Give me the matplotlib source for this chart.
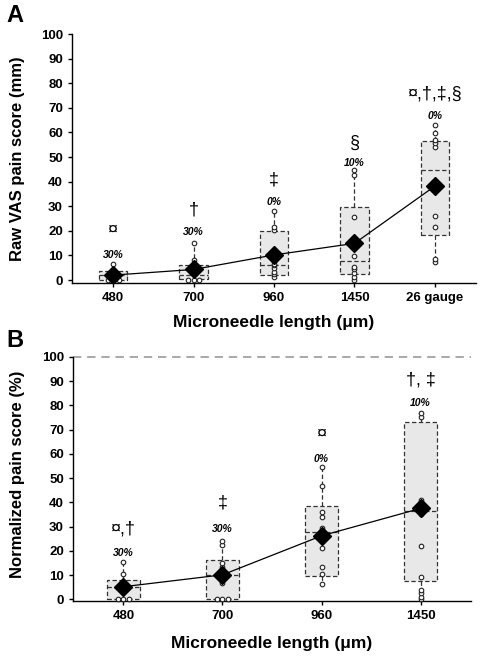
"""
pain score box plots, raw VAS (A) and normalized (B)
"""

import numpy as np
import matplotlib
matplotlib.use('Agg')
from matplotlib import pyplot as plt

plt.rcParams['font.family'] = ['Liberation Sans', 'DejaVu Sans']

# ---- panel A: raw VAS pain score (mm) ----
cats_a = ['480', '700', '960', '1450', '26 gauge']
lo_a = [0.0, 0.0, 1.3, 0.0, 7.2]
q1_a = [0.0, 0.3, 2.0, 2.4, 18.3]
med_a = [2.0, 2.2, 6.2, 7.8, 44.7]
q3_a = [3.7, 6.1, 20.0, 29.8, 56.5]
hi_a = [6.4, 15.2, 27.9, 44.7, 63.0]
mean_a = [2.0, 4.3, 10.2, 14.9, 38.2]
pts_a = [
    [0, 0, 0, 1.2, 1.8, 2.2, 2.8, 3.2, 3.6, 6.4],
    [0, 0, 0, 2.5, 3.5, 4.0, 4.5, 5.5, 8.1, 15.2],
    [1.3, 2.3, 3.4, 4.8, 6.1, 6.5, 7.7, 20.4, 21.7, 27.9],
    [0, 1.3, 3.0, 4.3, 5.4, 9.9, 13.0, 25.5, 42.5, 44.7],
    [7.2, 8.6, 21.7, 26.0, 36.0, 54.2, 55.6, 56.9, 59.9, 63.0],
]
sig_a = ['¤', '†', '‡', '§', '¤,†,‡,§']
sig_y_a = [20.3, 28.5, 40.6, 55.7, 75.6]
pct_a = ['30%', '30%', '0%', '10%', '0%']
pct_y_a = [10.0, 19.5, 31.7, 47.5, 66.7]

# ---- panel B: normalized pain score (%) ----
cats_b = ['480', '700', '960', '1450']
lo_b = [0.0, 0.0, 6.5, 0.0]
q1_b = [0.0, 0.0, 9.5, 7.4]
med_b = [5.1, 9.9, 27.6, 36.5]
q3_b = [8.1, 16.4, 38.4, 73.3]
hi_b = [15.4, 24.1, 54.7, 76.7]
mean_b = [5.2, 10.1, 26.2, 37.5]
pts_b = [
    [0, 0, 0, 3.0, 4.8, 5.4, 6.0, 7.2, 10.3, 15.4],
    [0, 0, 0, 6.7, 8.5, 9.5, 13.3, 15.0, 22.3, 24.1],
    [6.5, 10.3, 13.4, 21.0, 26.0, 29.3, 34.0, 36.1, 46.7, 54.7],
    [0, 1.0, 2.4, 4.0, 9.0, 22.0, 35.0, 41.0, 75.3, 76.7],
]
sig_b = ['¤,†', '‡', '¤', '†, ‡']
sig_y_b = [29.2, 39.8, 68.2, 90.5]
pct_b = ['30%', '30%', '0%', '10%']
pct_y_b = [19.3, 29.2, 57.7, 80.9]


def spread(vals, step):
    """ horizontal offsets so that repeated values sit side by side """
    vals = np.asarray(vals, float)
    off = np.zeros(len(vals))
    for v in np.unique(vals):
        idx = np.where(vals == v)[0]
        n = len(idx)
        if n > 1:
            off[idx] = (np.arange(n) - (n - 1) / 2.0) * step
    return off


def draw_panel(ax, cats, lo, q1, med, q3, hi, mean, pts, sig, sig_y, pct, pct_y,
               width, step, ylim):
    x = np.arange(len(cats))
    stats = []
    for i in range(len(cats)):
        stats.append(dict(med=med[i], q1=q1[i], q3=q3[i], whislo=lo[i],
                          whishi=hi[i], fliers=[], label=cats[i]))
    dash = (0, (3.5, 2))
    ax.bxp(stats, positions=x, widths=width, patch_artist=True,
           showcaps=False, showfliers=False,
           boxprops=dict(facecolor='#e8e8e8', edgecolor='#333333', lw=0.9, ls=dash),
           whiskerprops=dict(color='#333333', lw=0.9, ls=dash),
           medianprops=dict(color='#333333', lw=0.9, ls=dash))

    for i in range(len(cats)):
        off = spread(pts[i], step)
        ax.plot(x[i] + off, pts[i], 'o', ms=3.3, mfc='white', mec='#222222',
                mew=0.8, zorder=4, clip_on=False)

    ax.plot(x, mean, '-', c='k', lw=0.9, zorder=5)
    ax.plot(x, mean, 'D', c='k', ms=9.5, zorder=6)

    for i in range(len(cats)):
        ax.text(x[i], sig_y[i], sig[i], ha='center', va='center', fontsize=13)
        ax.text(x[i], pct_y[i], pct[i], ha='center', va='center', fontsize=7.5,
                fontweight='bold', fontstyle='italic')

    ax.set_xlim(-0.51, len(cats) - 0.49)
    ax.set_ylim(ylim)
    ax.set_yticks(np.arange(0, 101, 10))
    ax.set_xticks(x)
    ax.set_xticklabels(cats)
    for s in ['top', 'right']:
        ax.spines[s].set_visible(False)
    for s in ['left', 'bottom']:
        ax.spines[s].set_linewidth(1.0)
    ax.tick_params(axis='both', direction='out', length=3, width=1.0, labelsize=9.5)
    for lab in ax.get_xticklabels() + ax.get_yticklabels():
        lab.set_fontweight('bold')
    ax.set_xlabel('Microneedle length (μm)', fontsize=12.5, fontweight='bold')


fig = plt.figure(figsize=(4.82, 6.58), dpi=100)

ax1 = fig.add_axes([72 / 482, 1 - 283 / 658, 404 / 482, 249 / 658])
draw_panel(ax1, cats_a, lo_a, q1_a, med_a, q3_a, hi_a, mean_a, pts_a,
           sig_a, sig_y_a, pct_a, pct_y_a, 0.35, 0.068, (-1.2, 100))
ax1.set_ylabel('Raw VAS pain score (mm)', fontsize=12, fontweight='bold')
ax1.yaxis.set_label_coords(-0.116, 0.5)
ax1.xaxis.set_label_coords(0.5, -0.13)

ax2 = fig.add_axes([73 / 482, 1 - 601 / 658, 398 / 482, 244 / 658])
draw_panel(ax2, cats_b, lo_b, q1_b, med_b, q3_b, hi_b, mean_b, pts_b,
           sig_b, sig_y_b, pct_b, pct_y_b, 0.34, 0.06, (-0.7, 100))
ax2.axhline(100, c='#999999', lw=1.2, ls=(0, (5, 3.5)), clip_on=False)
ax2.set_ylabel('Normalized pain score (%)', fontsize=12, fontweight='bold')
ax2.yaxis.set_label_coords(-0.12, 0.52)
ax2.xaxis.set_label_coords(0.5, -0.145)

fig.text(15 / 482, 1 - 15 / 658, 'A', fontsize=17, fontweight='bold', ha='center', va='center')
fig.text(15 / 482, 1 - 341 / 658, 'B', fontsize=17, fontweight='bold', ha='center', va='center')

fig.savefig('out.png', dpi=100)
